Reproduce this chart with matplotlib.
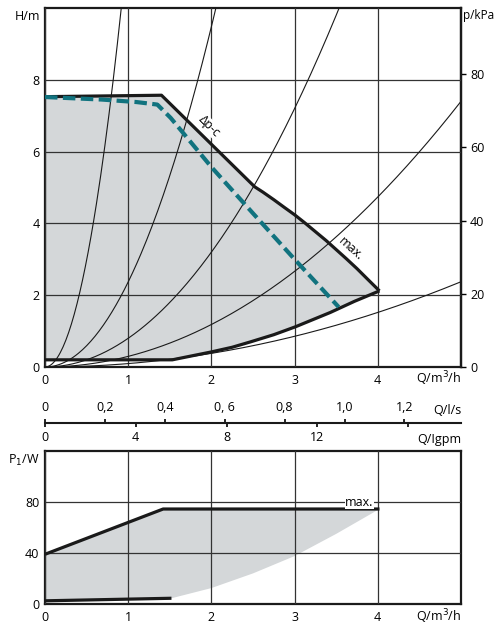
import numpy as np
import matplotlib
matplotlib.use("Agg")
import matplotlib.pyplot as plt

plt.rcParams['font.family'] = ['Open Sans', 'DejaVu Sans']
plt.rcParams['font.size'] = 9

# H(Q) envelope, Q in m3/h, H in m
max_q = [0, 1.40, 2.52, 2.62, 2.75, 2.88, 3.00, 3.12, 3.25, 3.38, 3.50, 3.62, 3.75, 3.88, 4.02]
max_h = [7.53, 7.57, 5.02, 4.87, 4.66, 4.44, 4.24, 4.02, 3.77, 3.52, 3.27, 3.02, 2.74, 2.44, 2.12]
min_q = [0, 1.53, 2.00, 2.25, 2.47, 2.75, 3.01, 3.22, 3.43, 3.72, 4.02]
min_h = [0.20, 0.20, 0.42, 0.55, 0.70, 0.90, 1.12, 1.32, 1.52, 1.83, 2.12]
# dp-c setpoint curve
dpc_q = [0, 0.68, 1.10, 1.35, 1.51, 2.00, 2.50, 3.00, 3.53]
dpc_h = [7.52, 7.45, 7.38, 7.31, 6.94, 5.57, 4.28, 3.00, 1.67]
# system curve coefficients H = k * Q^2
system_k = [11.9, 2.37, 0.80, 0.296, 0.095]

# power P1(Q), W
pmax_q = [0, 1.42, 4.02]
pmax_p = [39, 74.5, 74.5]
pmin_q = [0, 1.52]
pmin_p = [2.5, 4.5]
plow_q = [1.52, 2.0, 2.5, 3.0, 3.5, 4.02]
plow_p = [4.5, 12.5, 24, 37.6, 55, 74.5]

q_ticks = [0, 1, 2, 3, 4]
h_ticks = [0, 2, 4, 6, 8]
kpa_ticks = [0, 20, 40, 60, 80]
p_ticks = [0, 40, 80]
ls_ticks = [0, 0.2, 0.4, 0.6, 0.8, 1.0, 1.2]
ls_labels = ["0", "0,2", "0,4", "0, 6", "0,8", "1,0", "1,2"]
gpm_ticks = [0, 4, 8, 12, 16]
gpm_labels = ["0", "4", "8", "12", ""]

W, H = 499, 628
GRAY = "#d4d7d9"
DARK = "#1a1a1a"
TEAL = "#11737f"


def frac(px, py):
    return px / W, 1 - py / H


fig = plt.figure(figsize=(W / 100, H / 100), dpi=100)

# ---------------- top: H/m ----------------
ax = fig.add_axes([45 / W, 1 - 367 / H, 416 / W, 359 / H])
ax.set_xlim(0, 5)
ax.set_ylim(0, 10)
ax.set_axisbelow(False)
ax.fill(max_q + min_q[::-1], max_h + min_h[::-1], color=GRAY, lw=0, zorder=1)
qq = np.linspace(0, 5, 300)
for k in system_k:
    ax.plot(qq, k * qq ** 2, color=DARK, lw=0.8, zorder=3)
ax.plot(max_q, max_h, color=DARK, lw=2.3, zorder=4, solid_capstyle='butt')
ax.plot(min_q, min_h, color=DARK, lw=2.3, zorder=4, solid_capstyle='butt')
ax.plot(dpc_q, dpc_h, color=TEAL, lw=3.0, dashes=(3.0, 1.3), zorder=5)
ax.set_xticks(q_ticks)
ax.set_yticks(h_ticks)
ax.grid(True, color="#333333", lw=0.9)
ax.tick_params(axis='x', length=0, pad=5)
ax.tick_params(axis='y', length=0, pad=4)
for s in ax.spines.values():
    s.set_linewidth(1.6)
    s.set_color(DARK)
ax.text(1.97, 6.72, "Δp-c", rotation=-45, ha='center', va='center', zorder=3.5,
        bbox=dict(facecolor='white', edgecolor='none', pad=0.2))
ax.text(3.67, 3.28, "max.", rotation=-42, ha='center', va='center', zorder=6)

sec = ax.secondary_yaxis('right', functions=(lambda h: h * 9.81, lambda p: p / 9.81))
sec.set_yticks(kpa_ticks)
sec.tick_params(length=3.6, width=1.0, pad=3)
sec.spines['right'].set_linewidth(1.6)

fig.text(*frac(40, 16), "H/m", ha='right', va='center')
fig.text(*frac(463, 16), "p/kPa", ha='left', va='center', fontsize=8.5)
fig.text(*frac(461, 379), "Q/m$^3$/h", ha='right', va='center')

# ---------------- middle: flow scales ----------------
axm = fig.add_axes([45 / W, 1 - 423 / H, 416 / W, 0.0005])
axm.set_xlim(0, 5 / 3.6)
axm.set_yticks([])
for name in ['left', 'right', 'bottom']:
    axm.spines[name].set_visible(False)
axm.spines['top'].set_linewidth(1.5)
axm.spines['top'].set_color(DARK)
axm.xaxis.set_ticks_position('top')
axm.set_xticks(ls_ticks)
axm.set_xticklabels(ls_labels)
axm.tick_params(axis='x', direction='out', length=3, width=1.2, pad=3)
secx = axm.secondary_xaxis('bottom', functions=(lambda v: v * 3.6 / 0.2728,
                                                 lambda g: g * 0.2728 / 3.6))
secx.set_xticks(gpm_ticks)
secx.set_xticklabels(gpm_labels)
secx.tick_params(direction='out', length=3, width=1.2, pad=3)
secx.spines['bottom'].set_visible(False)
fig.text(*frac(461, 410), "Q/l/s", ha='right', va='center')
fig.text(*frac(461, 439), "Q/Igpm", ha='right', va='center')

# ---------------- bottom: P1/W ----------------
axp = fig.add_axes([45 / W, 1 - 604 / H, 416 / W, 153 / H])
axp.set_xlim(0, 5)
axp.set_ylim(0, 120)
axp.set_axisbelow(False)
axp.fill(pmax_q + plow_q[::-1] + pmin_q[::-1], pmax_p + plow_p[::-1] + pmin_p[::-1],
         color=GRAY, lw=0, zorder=1)
axp.plot(pmax_q, pmax_p, color=DARK, lw=2.3, zorder=4, solid_capstyle='butt')
axp.plot(pmin_q, pmin_p, color=DARK, lw=2.3, zorder=4, solid_capstyle='butt')
axp.set_xticks(q_ticks)
axp.set_yticks(p_ticks)
axp.grid(True, color="#333333", lw=0.9)
axp.tick_params(axis='x', length=0, pad=5)
axp.tick_params(axis='y', length=0, pad=4)
for s in axp.spines.values():
    s.set_linewidth(1.6)
    s.set_color(DARK)
axp.text(3.78, 80, "max.", ha='center', va='center', zorder=6,
         bbox=dict(facecolor='white', edgecolor='none', pad=0.5))
fig.text(*frac(40, 460), "P$_1$/W", ha='right', va='center')
fig.text(*frac(461, 617), "Q/m$^3$/h", ha='right', va='center')

fig.savefig("out.png", dpi=100)
